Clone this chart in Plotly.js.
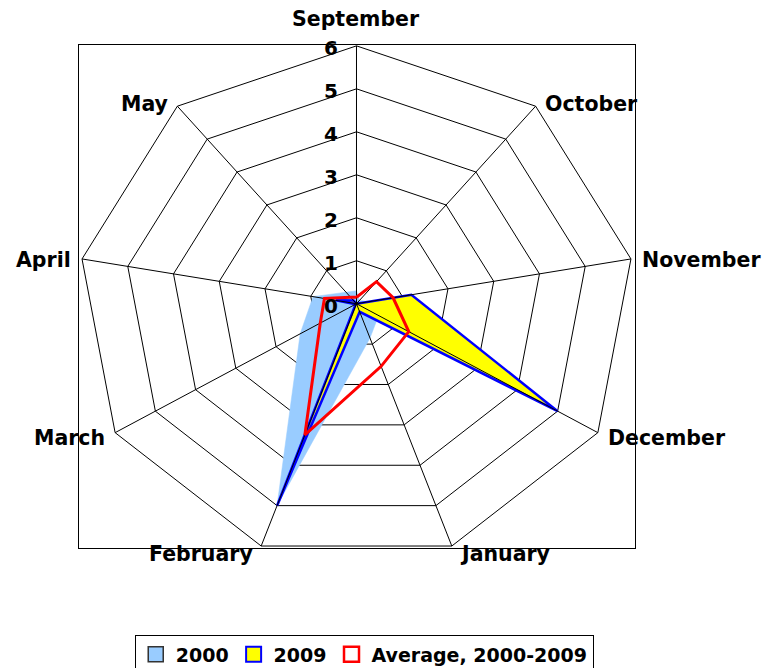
<!DOCTYPE html>
<html>
<head>
<meta charset="utf-8">
<script src="https://cdn.plot.ly/plotly-3.0.1.min.js"></script>
<style>
  html, body { margin: 0; padding: 0; background: #ffffff; }
  #chart { width: 767px; height: 668px; }
</style>
</head>
<body>
<div id="chart"></div>
<script>
// ---- data ----
const categories = ['September', 'October', 'November', 'December', 'January', 'February', 'March', 'April', 'May'];
const radialTicks = [0, 1, 2, 3, 4, 5, 6];
const seriesNames = ['2000', '2009', 'Average, 2000-2009'];
const values2000 = [0.3, 0.1, 0.3, 0.55, 0.85, 5, 1.4, 0.95, 0.35];
const values2009 = [0, 0, 1.2, 5, 0.2, 5, 0.02, 0.45, 0.1];
const valuesAvg = [0.15, 0.67, 0.8, 1.3, 1.55, 3.25, 0.9, 0.7, 0.2];

// ---- helpers (radar projection onto the cartesian axes) ----
const N = categories.length;
const rMax = radialTicks[radialTicks.length - 1];
function ang(i) { return (90 - 360 / N * i) * Math.PI / 180; }
function ring(vals) {
  const xs = [], ys = [];
  for (let i = 0; i <= N; i++) {
    const k = i % N;
    xs.push(vals[k] * Math.cos(ang(k)));
    ys.push(vals[k] * Math.sin(ang(k)));
  }
  return { x: xs, y: ys };
}

// grid rings
const gx = [], gy = [];
radialTicks.slice(1).forEach(t => {
  const r = ring(new Array(N).fill(t));
  gx.push(...r.x, null); gy.push(...r.y, null);
});
// spokes
const sx = [], sy = [];
for (let i = 0; i < N; i++) {
  sx.push(0, rMax * Math.cos(ang(i)), null);
  sy.push(0, rMax * Math.sin(ang(i)), null);
}

const p2000 = ring(values2000), p2009 = ring(values2009), pAvg = ring(valuesAvg);

const traces = [
  { x: gx, y: gy, mode: 'lines', line: { color: '#000000', width: 1 }, hoverinfo: 'skip', showlegend: false },
  { x: p2000.x, y: p2000.y, mode: 'lines', fill: 'toself', fillcolor: '#99CCFF',
    line: { color: '#99CCFF', width: 0.5 }, showlegend: false, name: seriesNames[0] },
  { x: p2009.x, y: p2009.y, mode: 'lines', fill: 'toself', fillcolor: '#FFFF00',
    line: { color: '#0000FF', width: 2.5 }, showlegend: false, name: seriesNames[1] },
  { x: sx, y: sy, mode: 'lines', line: { color: '#000000', width: 1 }, hoverinfo: 'skip', showlegend: false },
  { x: pAvg.x, y: pAvg.y, mode: 'lines', line: { color: '#FF0000', width: 3 }, showlegend: false, name: seriesNames[2] },
  // legend entries
  { x: [null], y: [null], mode: 'markers', name: seriesNames[0],
    marker: { symbol: 'square', size: 15, color: '#99CCFF', line: { color: '#333333', width: 1.5 } } },
  { x: [null], y: [null], mode: 'markers', name: seriesNames[1],
    marker: { symbol: 'square', size: 15, color: '#FFFF00', line: { color: '#0000FF', width: 2 } } },
  { x: [null], y: [null], mode: 'markers', name: seriesNames[2],
    marker: { symbol: 'square', size: 15, color: '#FFFFFF', line: { color: '#FF0000', width: 2.5 } } }
];

const font = 'DejaVu Sans, sans-serif';
const annotations = [];
categories.forEach((c, i) => {
  const a = ang(i), cx = Math.cos(a), sy_ = Math.sin(a);
  const top = Math.abs(cx) < 0.1;
  const gap = 4 + 5 * Math.abs(cx);
  annotations.push({
    x: rMax * cx, y: rMax * sy_, xref: 'x', yref: 'y', text: '<b>' + c + '</b>', showarrow: false,
    xanchor: top ? 'center' : (cx > 0 ? 'left' : 'right'), yanchor: 'middle',
    xshift: top ? 0 : (cx > 0 ? gap : -gap), yshift: top ? 27 : 6 * sy_ - 2,
    font: { family: font, size: 20.5, color: '#000000' }
  });
});
radialTicks.forEach(t => {
  annotations.push({
    x: -0.55, y: t, xref: 'x', yref: 'y', text: '<b>' + t + '</b>', showarrow: false,
    xanchor: 'center', yanchor: 'middle', yshift: -2,
    font: { family: font, size: 20, color: '#000000' }
  });
});

const layout = {
  width: 767, height: 668,
  margin: { l: 79, r: 132, t: 45, b: 120, autoexpand: false },
  paper_bgcolor: '#ffffff', plot_bgcolor: '#ffffff',
  xaxis: { range: [-5.974, 5.996], showgrid: false, zeroline: false, showticklabels: false, ticks: '',
           showline: true, mirror: true, linecolor: '#000000', linewidth: 1, fixedrange: true },
  yaxis: { range: [-5.684, 6.02], showgrid: false, zeroline: false, showticklabels: false, ticks: '',
           showline: true, mirror: true, linecolor: '#000000', linewidth: 1, fixedrange: true },
  showlegend: true,
  legend: { orientation: 'h', x: 0.513, xanchor: 'center', y: -0.172, yanchor: 'top',
            bordercolor: '#000000', borderwidth: 1, bgcolor: '#ffffff',
            font: { family: font, size: 19, color: '#000000', weight: 'bold' }, itemwidth: 30 },
  annotations: annotations
};

Plotly.newPlot('chart', traces, layout, { displayModeBar: false, staticPlot: true });
</script>
</body>
</html>
